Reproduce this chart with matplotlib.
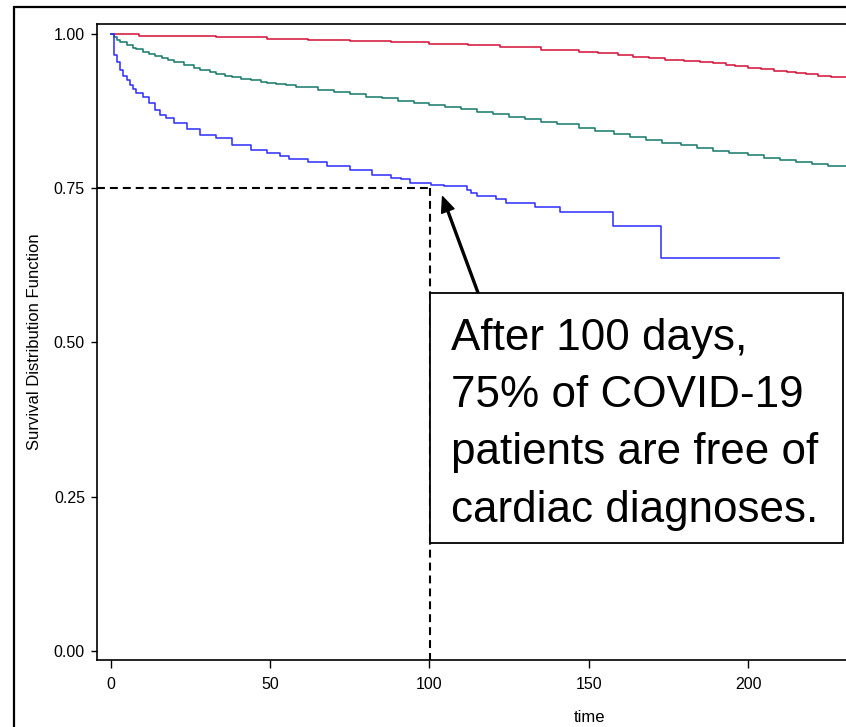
import matplotlib
matplotlib.use('Agg')
import matplotlib.pyplot as plt
import matplotlib.patches as patches

plt.rcParams['font.family'] = ['Liberation Sans', 'DejaVu Sans']

# Kaplan-Meier style curves (time in days, survival)
red_t = [0, 9, 33, 49, 62, 75, 88, 100, 112, 122, 135, 147, 153, 159, 164, 169,
         174, 180, 185, 189, 193, 196, 200, 204, 208, 212, 215, 218, 222, 226, 231]
red_s = [1.0, 0.998, 0.995, 0.993, 0.991, 0.989, 0.987, 0.984, 0.982, 0.979,
         0.975, 0.972, 0.969, 0.966, 0.963, 0.961, 0.959, 0.957, 0.955, 0.953,
         0.950, 0.948, 0.946, 0.943, 0.941, 0.939, 0.937, 0.935, 0.932, 0.930, 0.926]

green_t = [0, 1, 2, 3, 5, 7, 8, 10, 12, 14, 16, 18, 20, 23, 26, 28, 31, 33, 36, 38,
           41, 44, 47, 49, 52, 55, 58, 60, 65, 70, 75, 80, 85, 90, 95, 100, 105,
           110, 115, 120, 125, 130, 135, 140, 147, 152, 158, 163, 168, 173, 179,
           184, 189, 194, 200, 205, 210, 215, 220, 225, 231]
green_s = [1.0, 0.995, 0.991, 0.988, 0.982, 0.978, 0.976, 0.971, 0.968, 0.964,
           0.961, 0.958, 0.955, 0.950, 0.946, 0.942, 0.939, 0.936, 0.933, 0.930,
           0.928, 0.925, 0.923, 0.921, 0.919, 0.917, 0.915, 0.914, 0.910, 0.907,
           0.903, 0.899, 0.896, 0.892, 0.889, 0.885, 0.882, 0.878, 0.874, 0.870,
           0.866, 0.862, 0.858, 0.854, 0.848, 0.843, 0.839, 0.834, 0.829, 0.824,
           0.820, 0.815, 0.811, 0.807, 0.804, 0.800, 0.796, 0.792, 0.789, 0.786, 0.783]

blue_t = [0, 1, 2, 3, 4, 5, 6, 7, 8, 10, 12, 14, 15.5, 17.5, 20, 24, 28, 33, 38,
          44, 49, 53, 56, 62, 68, 75, 82, 88, 91, 94, 100.5, 104.5, 111.7, 113,
          114.8, 120.8, 123.9, 133, 141, 157.6, 172.5, 209.5]
blue_s = [1.0, 0.966, 0.955, 0.942, 0.933, 0.925, 0.918, 0.912, 0.905, 0.898,
          0.888, 0.877, 0.869, 0.864, 0.856, 0.847, 0.836, 0.831, 0.820, 0.812,
          0.807, 0.802, 0.797, 0.792, 0.786, 0.779, 0.772, 0.767, 0.766, 0.758,
          0.756, 0.754, 0.747, 0.742, 0.738, 0.732, 0.727, 0.720, 0.712, 0.689,
          0.637, 0.637]

x_ticks = [0, 50, 100, 150, 200]
y_ticks = [0.0, 0.25, 0.50, 0.75, 1.00]
y_ticklabels = ['0.00', '0.25', '0.50', '0.75', '1.00']

mark_t = 100.2     # day marked by the dashed guide
mark_s = 0.75      # survival level marked
note = 'After 100 days,\n75% of COVID-19\npatients are free of\ncardiac diagnoses.'

fig = plt.figure(figsize=(8.46, 7.27), dpi=100)

# outer frame of the original screenshot (runs off the right / bottom edge)
fig.patches.append(patches.Rectangle((14 / 846, -0.1), 1.2, 1 - 7 / 727 + 0.1,
                                     transform=fig.transFigure, fill=False,
                                     edgecolor='black', linewidth=1.6))

ax = fig.add_axes([0.1143, 0.0922, 1.1658, 0.8744])
ax.step(red_t, red_s, where='post', color='#d40f35', lw=1.1)
ax.step(green_t, green_s, where='post', color='#14786a', lw=1.1)
ax.step(blue_t, blue_s, where='post', color='#2b2bff', lw=1.1)

ax.set_xlim(-4.39, 305)
ax.set_ylim(-0.0151, 1.0162)
ax.set_xticks(x_ticks)
ax.set_yticks(y_ticks)
ax.set_yticklabels(y_ticklabels)
ax.tick_params(axis='x', length=6, width=1, pad=6, labelsize=11.5)
ax.tick_params(axis='y', length=4, width=1, pad=4.5, labelsize=11.5)
for sp in ax.spines.values():
    sp.set_linewidth(1.2)

ax.set_xlabel('time', fontsize=12, va='center')
ax.xaxis.set_label_coords(0.5, -0.0912)
ax.set_ylabel('Survival Distribution Function', fontsize=12, va='center')
ax.yaxis.set_label_coords(-0.0626, 0.5)

# dashed guide lines at 75% / day 100
dash = (0, (3.8, 2.4))
ax.plot([-4.39, mark_t], [mark_s, mark_s], color='black', lw=1.5, ls=dash)
ax.plot([mark_t, mark_t], [mark_s, -0.0151], color='black', lw=1.5, ls=dash)

# callout box
ax.add_patch(patches.Rectangle((100.2, 0.174), 129.5, 0.407, fill=True,
                               facecolor='white', edgecolor='black', lw=1.3,
                               zorder=3))
ax.text(106.6, 0.2093, note, fontsize=31.7, va='baseline', ha='left',
        linespacing=1.51, zorder=4)
ax.annotate('', xy=(104.1, 0.7365), xytext=(115.2, 0.581),
            arrowprops=dict(facecolor='black', edgecolor='black', width=1.4,
                            headwidth=9.5, headlength=11, shrink=0))

fig.savefig('out.png', dpi=100)
